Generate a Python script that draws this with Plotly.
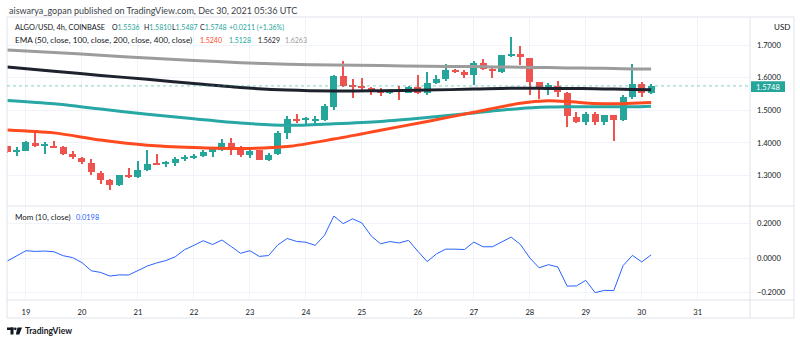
import pandas as pd
import plotly.graph_objects as go

# ALGO/USD 4h bars (Coinbase), first bar opens 18 Dec 2021 16:00 UTC
first_bar = "2021-12-18 16:00"

opens = [1.390, 1.371, 1.377, 1.399, 1.393, 1.392, 1.387, 1.367, 1.355, 1.339,
         1.309, 1.286, 1.270, 1.302, 1.297, 1.318, 1.338, 1.336, 1.339, 1.350,
         1.356, 1.359, 1.372, 1.379, 1.399, 1.3845, 1.363, 1.378, 1.349, 1.366,
         1.432, 1.4745, 1.471, 1.470, 1.4705, 1.511, 1.606, 1.575, 1.5746, 1.569,
         1.561, 1.552, 1.5625, 1.553, 1.5725, 1.552, 1.5826, 1.596, 1.6245, 1.616,
         1.607, 1.646, 1.6255, 1.616, 1.668, 1.6726, 1.6594, 1.587, 1.566, 1.5755,
         1.553, 1.479, 1.465, 1.488, 1.465, 1.4845, 1.4715, 1.5418, 1.5807, 1.5536]
highs = [1.392, 1.388, 1.406, 1.430, 1.402, 1.407, 1.392, 1.375, 1.358, 1.351,
         1.313, 1.290, 1.303, 1.322, 1.344, 1.3775, 1.365, 1.346, 1.357, 1.363,
         1.365, 1.378, 1.389, 1.411, 1.416, 1.390, 1.383, 1.380, 1.370, 1.438,
         1.482, 1.488, 1.480, 1.482, 1.519, 1.6085, 1.650, 1.597, 1.599, 1.572,
         1.5685, 1.566, 1.576, 1.576, 1.608, 1.618, 1.608, 1.642, 1.627, 1.625,
         1.650, 1.6585, 1.636, 1.671, 1.7256, 1.696, 1.661, 1.588, 1.583, 1.590,
         1.555, 1.496, 1.494, 1.496, 1.487, 1.487, 1.548, 1.641, 1.587, 1.5810]
lows = [1.370, 1.361, 1.376, 1.388, 1.367, 1.384, 1.362, 1.352, 1.335, 1.302,
        1.274, 1.257, 1.268, 1.294, 1.293, 1.315, 1.332, 1.326, 1.331, 1.346,
        1.350, 1.356, 1.357, 1.376, 1.363, 1.358, 1.353, 1.348, 1.345, 1.362,
        1.411, 1.460, 1.455, 1.452, 1.466, 1.4998, 1.573, 1.538, 1.556, 1.546,
        1.545, 1.550, 1.532, 1.552, 1.551, 1.548, 1.580, 1.589, 1.614, 1.600,
        1.578, 1.624, 1.600, 1.613, 1.6625, 1.640, 1.548, 1.536, 1.548, 1.5397,
        1.448, 1.460, 1.456, 1.4545, 1.456, 1.4065, 1.467, 1.5357, 1.542, 1.5487]
closes = [1.372, 1.380, 1.402, 1.393, 1.395, 1.387, 1.366, 1.356, 1.341, 1.310,
          1.2855, 1.272, 1.302, 1.296, 1.317, 1.337, 1.3355, 1.340, 1.350, 1.357,
          1.359, 1.372, 1.381, 1.399, 1.382, 1.362, 1.3765, 1.349, 1.364, 1.432,
          1.4725, 1.467, 1.473, 1.471, 1.514, 1.606, 1.5746, 1.574, 1.567, 1.559,
          1.552, 1.562, 1.555, 1.5725, 1.552, 1.5826, 1.596, 1.6245, 1.617, 1.607,
          1.646, 1.6275, 1.619, 1.6686, 1.673, 1.662, 1.5868, 1.5665, 1.577, 1.555,
          1.4815, 1.4645, 1.488, 1.465, 1.4845, 1.4705, 1.541, 1.5807, 1.5536, 1.5748]

# EMA readings taken at these bar numbers
ema_bars = [0, 5, 10, 15, 20, 25, 30, 35, 40, 45, 50, 55, 58, 60, 63, 65, 67, 69]
ema50 = [1.440, 1.431, 1.409, 1.393, 1.386, 1.383, 1.389, 1.412, 1.439, 1.466,
         1.494, 1.522, 1.529, 1.527, 1.521, 1.520, 1.522, 1.5240]
ema100 = [1.530, 1.520, 1.504, 1.488, 1.474, 1.461, 1.454, 1.459, 1.466, 1.478,
          1.492, 1.506, 1.510, 1.511, 1.511, 1.511, 1.511, 1.5128]
ema200 = [1.633, 1.620, 1.607, 1.595, 1.582, 1.570, 1.562, 1.559, 1.560, 1.562,
          1.565, 1.568, 1.567, 1.567, 1.566, 1.565, 1.564, 1.5629]
ema400 = [1.685, 1.677, 1.669, 1.660, 1.653, 1.646, 1.641, 1.639, 1.637, 1.635,
          1.634, 1.632, 1.631, 1.630, 1.629, 1.628, 1.627, 1.6263]

# Momentum (10, close), one value per bar
mom10 = [-0.016, 0.014, 0.044, 0.040, 0.042, 0.038, 0.015, 0.004, -0.025, -0.072,
         -0.082, -0.103, -0.096, -0.097, -0.070, -0.045, -0.027, -0.013, 0.009, 0.050,
         0.075, 0.102, 0.080, 0.106, 0.068, 0.029, 0.044, 0.011, 0.016, 0.078,
         0.115, 0.098, 0.093, 0.075, 0.134, 0.245, 0.201, 0.229, 0.205, 0.130,
         0.084, 0.097, 0.089, 0.104, 0.041, -0.019, 0.026, 0.053, 0.053, 0.051,
         0.094, 0.067, 0.067, 0.097, 0.123, 0.080, 0.002, -0.055, -0.037, -0.050,
         -0.161, -0.160, -0.128, -0.199, -0.186, -0.187, -0.042, 0.017, -0.021, 0.0198]

price_ticks = [1.3, 1.4, 1.5, 1.6, 1.7]
mom_ticks = [-0.2, 0.0, 0.2]
day_ticks = ["2021-12-19", "2021-12-20", "2021-12-21", "2021-12-22", "2021-12-23",
             "2021-12-24", "2021-12-25", "2021-12-26", "2021-12-27", "2021-12-28",
             "2021-12-29", "2021-12-30", "2021-12-31"]
day_labels = ["19", "20", "21", "22", "23", "24", "25", "26", "27", "28", "29", "30", "31"]

UP, DOWN = "#26a69a", "#ef5350"
C50, C100, C200, C400 = "#ff4a1f", "#27a8a4", "#1e222d", "#9c9c9c"
MOM = "#2962ff"
TXT = "#131722"
GRID = "#f0f3fa"
FRAME = "#e0e3eb"
FONT = "Lato, 'Open Sans', sans-serif"
AXFS = 7.6    # axis label size
WFS = 8.0     # legend words
NFS = 7.0     # legend numbers

W, H = 800, 343
PL, PR, PT, PB = 7, 750, 17, 300   # plotting area in pixels
SPLIT = 206                          # pixel row between price and momentum panes
PX_PER_PRICE = 326.5                 # vertical pixels per 1.0 of price


def fx(px):
    return (px - PL) / (PR - PL)


def fy(py):
    return (PB - py) / (PB - PT)


times = pd.date_range(first_bar, periods=len(closes), freq="4h")
ema_times = [times[i] for i in ema_bars]
bar_ms = 4 * 3600 * 1000
colors = [UP if c >= o else DOWN for o, c in zip(opens, closes)]
body_base = [min(o, c) for o, c in zip(opens, closes)]
body_len = [max(abs(c - o), 0.003) for o, c in zip(opens, closes)]
wick_len = [h - l for h, l in zip(highs, lows)]

fig = go.Figure()

fig.add_trace(go.Bar(x=times, y=wick_len, base=lows, width=bar_ms * 0.11,
                     marker=dict(color=colors, line=dict(width=0)),
                     xaxis="x", yaxis="y", hoverinfo="skip"))
fig.add_trace(go.Bar(x=times, y=body_len, base=body_base, width=bar_ms * 0.75,
                     marker=dict(color=colors, line=dict(width=0)),
                     xaxis="x", yaxis="y", hoverinfo="skip"))

for vals, col in [(ema400, C400), (ema200, C200), (ema100, C100), (ema50, C50)]:
    fig.add_trace(go.Scatter(x=ema_times, y=vals, mode="lines",
                             line=dict(color=col, width=3, shape="spline", smoothing=0.8),
                             xaxis="x", yaxis="y", hoverinfo="skip"))

fig.add_trace(go.Scatter(x=times, y=mom10, mode="lines",
                         line=dict(color=MOM, width=1),
                         xaxis="x2", yaxis="y2", hoverinfo="skip"))

x_range = ["2021-12-18 15:52", "2021-12-31 22:24"]
split_frac = fy(SPLIT)

axis_common = dict(showline=False, zeroline=False, gridcolor=GRID, gridwidth=1)
tick_font = dict(size=AXFS, color=TXT)
fig.update_layout(
    width=W, height=H,
    margin=dict(l=PL, r=W - PR, t=PT, b=H - PB, pad=0),
    paper_bgcolor="white", plot_bgcolor="white",
    showlegend=False, barmode="overlay", bargap=0,
    font=dict(family=FONT, size=AXFS, color=TXT),
    xaxis=dict(domain=[0, 1], range=x_range, anchor="y", tickvals=day_ticks,
               showticklabels=False, **axis_common),
    xaxis2=dict(domain=[0, 1], range=x_range, anchor="y2", tickvals=day_ticks,
                ticktext=day_labels, ticks="", ticklabelstandoff=6,
                tickfont=tick_font, **axis_common),
    yaxis=dict(domain=[split_frac, 1], range=[1.2070, 1.7859], side="right",
               anchor="x", tickvals=price_ticks, tickformat=".4f", ticks="",
               ticklabelstandoff=6, tickfont=tick_font, **axis_common),
    yaxis2=dict(domain=[0, split_frac], range=[-0.2417, 0.3032], side="right",
                anchor="x2", tickvals=mom_ticks, tickformat=".4f", ticks="",
                ticklabelstandoff=6, tickfont=tick_font, **axis_common),
)

last = closes[-1]
shapes = [
    # frame and pane separators
    dict(type="rect", xref="paper", yref="paper", x0=0, x1=fx(794), y0=fy(318), y1=1,
         line=dict(color=FRAME, width=1)),
    dict(type="line", xref="paper", yref="paper", x0=0, x1=fx(794), y0=split_frac, y1=split_frac,
         line=dict(color=FRAME, width=1)),
    dict(type="line", xref="paper", yref="paper", x0=0, x1=fx(794), y0=0, y1=0,
         line=dict(color=FRAME, width=1)),
    dict(type="line", xref="paper", yref="paper", x0=1, x1=1, y0=fy(318), y1=1,
         line=dict(color=FRAME, width=1)),
    # last price line
    dict(type="line", xref="paper", yref="y", x0=0, x1=1, y0=last, y1=last,
         line=dict(color="rgba(38,166,154,0.55)", width=1, dash="dot")),
    # last price tag
    dict(type="rect", xref="paper", yref="y", x0=fx(751), x1=fx(785),
         y0=last - 6.2 / PX_PER_PRICE, y1=last + 4.6 / PX_PER_PRICE,
         fillcolor=UP, line=dict(width=0)),
    # TradingView logo mark
    dict(type="rect", xref="paper", yref="paper", x0=fx(7), x1=fx(13.5), y0=fy(330), y1=fy(327.5),
         fillcolor=TXT, line=dict(width=0)),
    dict(type="rect", xref="paper", yref="paper", x0=fx(10.5), x1=fx(13.5), y0=fy(334.5), y1=fy(327.5),
         fillcolor=TXT, line=dict(width=0)),
    dict(type="circle", xref="paper", yref="paper", x0=fx(14), x1=fx(16.6), y0=fy(330.2), y1=fy(327.5),
         fillcolor=TXT, line=dict(width=0)),
    dict(type="path", xref="paper", yref="paper",
         path=f"M {fx(17.5)},{fy(327.5)} L {fx(22)},{fy(327.5)} L {fx(19.3)},{fy(334.5)} "
              f"L {fx(15.8)},{fy(334.5)} Z",
         fillcolor=TXT, line=dict(width=0)),
]
fig.update_layout(shapes=shapes)


def val(text, col):
    return f"<span style='color:{col}'>{text}</span>"


def seg(text, px, py, size=NFS, color=TXT):
    return dict(text=text, x=fx(px), y=fy(py), font=dict(size=size, color=color))


annotations = [
    seg("aiswarya_gopan published on TradingView.com, Dec 30, 2021 05:36 UTC", 7, 10,
        size=9, color="#3b3f4a"),
    # symbol line
    seg("ALGO/USD, 4h, COINBASE", 12.5, 27, size=7.4),
    seg(f"O{val(f'{opens[-1]:.4f}', UP)}", 110, 27),
    seg(f"H{val(f'{highs[-1]:.4f}', UP)}", 141.5, 27),
    seg(f"L{val(f'{lows[-1]:.4f}', UP)}", 170, 27),
    seg(f"C{val(f'{last:.4f}', UP)}", 197.7, 27),
    seg("+0.0211 (+1.36%)", 227, 27, color=UP),
    # moving averages line
    seg("EMA (50, close, 100, close, 200, close, 400, close)", 12.5, 40, size=8.2),
    seg(f"{ema50[-1]:.4f}", 198, 40, color=C50),
    seg(f"{ema100[-1]:.4f}", 226.5, 40, color=C100),
    seg(f"{ema200[-1]:.4f}", 255.5, 40, color=C200),
    seg(f"{ema400[-1]:.4f}", 282.5, 40, color=C400),
    # momentum pane
    seg("Mom (10, close)", 12.5, 217, size=WFS),
    seg(f"{mom10[-1]:.4f}", 74, 217, size=7.4, color=MOM),
    seg("USD", 772, 27, size=WFS),
    seg("<b>TradingView</b>", 23, 331, size=8.5),
]
for a in annotations:
    a.update(xref="paper", yref="paper", xanchor="left", yanchor="middle",
             showarrow=False, align="left")
annotations.append(dict(text=f"{last:.4f}", xref="paper", yref="y", x=fx(768), y=last,
                        yshift=-1, xanchor="center", yanchor="middle", showarrow=False,
                        font=dict(size=AXFS, color="white")))
fig.update_layout(annotations=annotations)

fig.write_html("out.html")
